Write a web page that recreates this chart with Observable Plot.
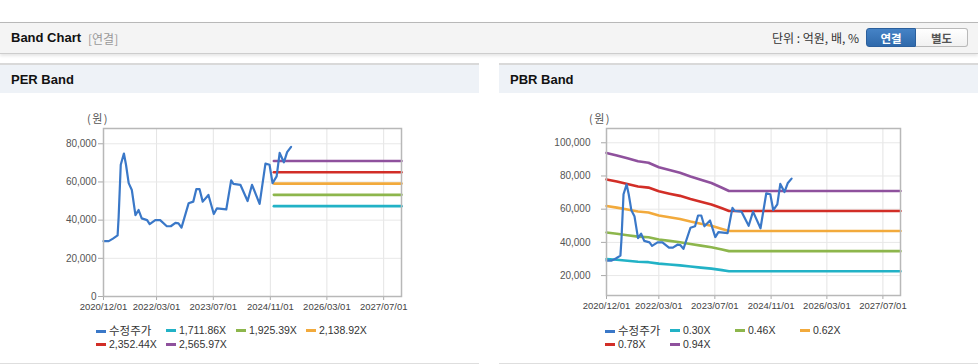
<!DOCTYPE html>
<html><head><meta charset="utf-8">
<script src="https://cdn.jsdelivr.net/npm/d3@7"></script>
<script src="https://cdn.jsdelivr.net/npm/@observablehq/plot@0.6"></script>
<style>
body{margin:0;width:978px;height:364px;position:relative;overflow:hidden;background:#fff;font-family:"Liberation Sans",Arial,"Noto Sans CJK KR",sans-serif;}
.abs{position:absolute;}
.topbar{position:absolute;left:0;top:22px;width:978px;height:30px;background:#f4f4f4;border-top:1px solid #b8b8b8;border-bottom:1px solid #cdcdcd;box-shadow:0 2px 3px rgba(0,0,0,0.10);}
.title{position:absolute;left:11px;top:7px;font-weight:bold;font-size:13px;color:#111;}
.sub{position:absolute;left:88px;top:8px;font-size:12px;color:#999;font-family:"Noto Sans CJK KR",sans-serif;line-height:15px;}
.unit{position:absolute;right:119px;top:7px;font-size:12px;color:#333;font-family:"Noto Sans CJK KR",sans-serif;line-height:16px;}
.btn{position:absolute;top:5px;width:50px;height:19px;font-size:11.5px;font-weight:bold;text-align:center;line-height:19px;font-family:"Noto Sans CJK KR",sans-serif;box-sizing:border-box;}
.b1{left:866px;background:linear-gradient(#4583c6,#2f69ab);color:#fff;border:1px solid #2b5f9c;border-radius:3px 0 0 3px;}
.b2{left:916px;width:52px;background:linear-gradient(#fff,#f1f1f1);color:#555;border:1px solid #b9b9b9;border-left:none;border-radius:0 3px 3px 0;}
.panel{position:absolute;top:63px;width:479px;height:298px;border-top:2px solid #d9d9d9;border-bottom:1px solid #dedede;background:#fff;}
.phead{position:absolute;left:0;top:0;width:100%;height:28px;background:#eef2f7;}
.ptitle{position:absolute;left:11px;top:7px;font-weight:bold;font-size:13px;color:#111;}
.unitlbl{position:absolute;font-size:11px;color:#555;font-family:"Noto Sans CJK KR",sans-serif;letter-spacing:1.5px;}
.legend{position:absolute;display:flex;flex-wrap:wrap;font-size:10.5px;color:#333;font-family:"Liberation Sans",Arial,"Noto Sans CJK KR",sans-serif;}
.li{height:14px;line-height:14px;white-space:nowrap;}
.ko{font-family:"Noto Sans CJK KR",sans-serif;font-size:11.5px;}
.sw{display:inline-block;width:10px;height:2.5px;vertical-align:middle;margin-right:3px;margin-bottom:1px;}
</style></head>
<body>
<div class="topbar">
  <div class="title">Band Chart</div>
  <div class="sub">[연결]</div>
  <div class="unit">단위 : 억원, 배, %</div>
  <div class="btn b1">연결</div>
  <div class="btn b2">별도</div>
</div>
<div class="panel" style="left:0"><div class="phead"><div class="ptitle">PER Band</div></div></div>
<div class="panel" style="left:499px"><div class="phead"><div class="ptitle">PBR Band</div></div></div>
<div class="unitlbl" style="left:87px;top:110px">(원)</div>
<div class="unitlbl" style="left:589px;top:110px">(원)</div>
<div id="per" class="abs" style="left:0;top:100px"></div>
<div id="pbr" class="abs" style="left:499px;top:100px"></div>
<div id="perLeg" class="legend" style="left:96px;top:323px;width:290px"></div>
<div id="pbrLeg" class="legend" style="left:605px;top:323px;width:270px"></div>
<script>
// ---- data ----
const priceDates = ["2020-12-01","2021-01-15","2021-02-20","2021-04-01","2021-04-10","2021-04-28","2021-05-25","2021-06-12","2021-07-05","2021-08-01","2021-09-01","2021-09-28","2021-10-25","2021-12-10","2022-01-01","2022-02-18","2022-04-01","2022-05-28","2022-07-01","2022-08-10","2022-09-05","2022-10-01","2022-12-01","2023-01-10","2023-02-05","2023-03-05","2023-04-01","2023-05-20","2023-07-05","2023-08-01","2023-10-20","2023-12-01","2023-12-20","2024-02-18","2024-04-20","2024-05-28","2024-08-01","2024-09-20","2024-10-25","2024-11-20","2024-12-25","2025-01-20","2025-02-25","2025-03-25","2025-04-28"];
const priceValues = [29000,29000,30300,32000,41700,69000,74900,69000,59400,55800,42600,45300,40900,40000,37900,40000,40000,36800,36800,38600,38300,36100,48800,49700,56200,56200,49700,53200,43200,46200,45600,60800,59000,58500,50000,58500,48500,69600,69000,59400,62900,75200,70300,75600,78400];

const perLabels = ["1,711.86X","1,925.39X","2,138.92X","2,352.44X","2,565.97X"];
const perBandValues = [47330,53240,59140,65050,70950];
const perBandDates = ["2024-12-01","2027-12-01"];

const pbrLabels = ["0.30X","0.46X","0.62X","0.78X","0.94X"];
const pbrMultiples = [0.30,0.46,0.62,0.78,0.94];
const bpsDates = ["2020-12-01","2021-03-01","2021-06-01","2021-09-01","2021-12-01","2022-03-01","2022-06-01","2022-09-01","2022-12-01","2023-03-01","2023-06-01","2023-09-01","2023-11-01","2027-12-01"];
const bpsValues = [99900,98300,96400,94500,93600,90700,88900,87200,84800,82700,80600,77600,75500,75500];

const priceLabel = "수정주가";
const xTickDates = ["2020-12-01","2022-03-01","2023-07-01","2024-11-01","2026-03-01","2027-07-01"];
const xDomain = ["2020-12-01","2027-12-01"];
const perYTicks = [0,20000,40000,60000,80000];
const perYDomain = [0,88000];
const pbrYTicks = [20000,40000,60000,80000,100000];
const pbrYDomain = [8000,108600];

const priceColor = "#3a78c8";
const bandColors = ["#22b2c6","#8db64c","#f2aa3c","#d22e27","#8f519d"];

// ---- build ----
const P = d => new Date(d + "T00:00:00Z");
const price = priceDates.map((d,i) => ({date:P(d), value:priceValues[i]}));
const perBands = [];
perLabels.forEach((s,k) => perBandDates.forEach(d => perBands.push({series:s, date:P(d), value:perBandValues[k]})));
const pbrBands = [];
pbrLabels.forEach((s,k) => bpsDates.forEach((d,i) => pbrBands.push({series:s, date:P(d), value:pbrMultiples[k]*bpsValues[i]})));

function chart({yDomain, yTicks, bands, labels, marginLeft, marginBottom, tickPadding}) {
  return Plot.plot({
    width: 430, height: 215, marginLeft, marginRight: 29, marginTop: 28, marginBottom,
    style: {fontFamily: "'Liberation Sans', Arial, sans-serif", fontSize: "9.5px", color: "#555", background: "transparent", overflow: "visible"},
    x: {type: "utc", domain: xDomain.map(P)},
    y: {domain: yDomain},
    color: {domain: labels, range: bandColors},
    marks: [
      Plot.gridX(xTickDates.map(P), {stroke: "#e4e4e4", strokeOpacity: 1}),
      Plot.gridY(yTicks, {stroke: "#e8e8e8", strokeOpacity: 1}),
      Plot.axisX(xTickDates.map(P), {tickFormat: d3.utcFormat("%Y/%m/%d"), tickSize: 4, tickPadding: 3, stroke: "#aaa", fill: "#444", label: null, fontSize: 9.5}),
      Plot.axisY(yTicks, {tickFormat: d3.format(","), tickSize: 5, tickPadding, stroke: "#aaa", fill: "#555", label: null, fontSize: 10}),
      Plot.line(bands, {x: "date", y: "value", z: "series", stroke: "series", strokeWidth: 2.6}),
      Plot.line(price, {x: "date", y: "value", stroke: priceColor, strokeWidth: 2.2}),
      Plot.frame({stroke: "#b8b8b8", strokeWidth: 1.5})
    ]
  });
}

document.getElementById("per").appendChild(chart({yDomain: perYDomain, yTicks: perYTicks, bands: perBands, labels: perLabels, marginLeft: 103, marginBottom: 19, tickPadding: 2}));
document.getElementById("pbr").appendChild(chart({yDomain: pbrYDomain, yTicks: pbrYTicks, bands: pbrBands, labels: pbrLabels, marginLeft: 107, marginBottom: 20, tickPadding: 11}));

function legend(el, labels, colW) {
  const items = [{t: priceLabel, c: priceColor, ko: true}].concat(labels.map((t,i) => ({t, c: bandColors[i]})));
  items.forEach(it => {
    const d = document.createElement("div");
    d.className = "li"; d.style.width = colW + "px";
    d.innerHTML = '<span class="sw" style="background:' + it.c + '"></span>' + (it.ko ? '<span class="ko">' + it.t + '</span>' : it.t);
    el.appendChild(d);
  });
}
legend(document.getElementById("perLeg"), perLabels, 70);
legend(document.getElementById("pbrLeg"), pbrLabels, 65);
</script>
</body></html>
